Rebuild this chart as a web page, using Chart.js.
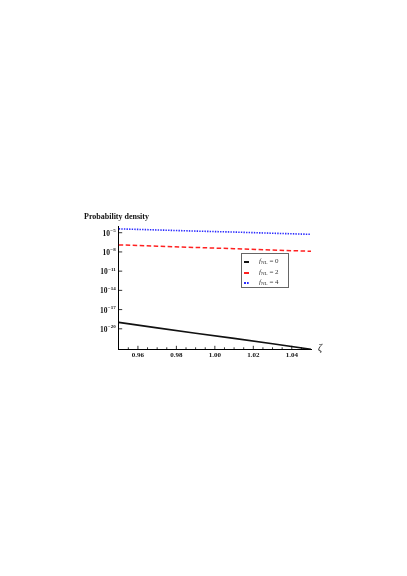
<!DOCTYPE html>
<html>
<head>
<meta charset="utf-8">
<script src="https://cdn.jsdelivr.net/npm/chart.js@4"></script>
<style>
  html, body { margin: 0; padding: 0; background: #fff; }
  #wrap { position: relative; width: 407px; height: 576px; }
  #title { position: absolute; left: 84px; top: 212px; font: bold 8px 'Liberation Serif', serif; color: #111; white-space: nowrap; }
  #zeta { position: absolute; left: 318px; top: 342px; font: italic 10px 'Liberation Serif', serif; color: #111; }
  #legend { position: absolute; left: 241px; top: 253px; width: 48px; height: 35px; border: 1px solid #666; background: #fff; box-sizing: border-box; font: 7px 'Liberation Serif', serif; color: #333; padding-top: 2px; }
  .row { position: relative; height: 10.5px; }
  .sample { position: absolute; left: 2px; top: 5px; width: 5px; height: 0; }
  .lab { position: absolute; left: 17px; top: 0px; line-height: 10px; white-space: nowrap; }
  .lab sub { font-size: 5px; vertical-align: -1px; }
</style>
</head>
<body>
<div id="wrap">
  <canvas id="c" width="407" height="576"></canvas>
  <div id="title">Probability density</div>
  <div id="zeta">ζ</div>
  <div id="legend"></div>
</div>
<script>
// ---- data ----
const zeta = [0.95, 0.97, 0.99, 1.01, 1.03, 1.05];
const densityF0 = [1.0e-19, 1.4e-20, 2.0e-21, 3.2e-22, 4.5e-23, 6.3e-24];
const densityF2 = [1.26e-7, 7.9e-8, 5.0e-8, 3.2e-8, 2.0e-8, 1.26e-8];
const densityF4 = [4.0e-5, 2.7e-5, 1.8e-5, 1.26e-5, 8.3e-6, 5.6e-6];
const fnlValues = ['0', '2', '4'];
const xTicks = [0.96, 0.98, 1.00, 1.02, 1.04];
const xMinorTicks = [0.955, 0.965, 0.97, 0.975, 0.985, 0.99, 0.995, 1.005, 1.01, 1.015, 1.025, 1.03, 1.035, 1.045];
const yTicks = [1e-5, 1e-8, 1e-11, 1e-14, 1e-17, 1e-20];
const yTickExponents = ['−5', '−8', '−11', '−14', '−17', '−20'];

const series = [densityF0, densityF2, densityF4];
const colors = ['#111111', '#ff2020', '#2a2aff'];
const dashes = [[], [4.5, 2.5], [1.4, 1.2]];
const widths = [1.6, 1.5, 1.6];
const cssStyles = ['solid', 'dashed', 'dotted'];

const datasets = series.map((vals, i) => ({
  label: 'fNL = ' + fnlValues[i],
  data: vals.map((v, j) => ({ x: zeta[j], y: v })),
  borderColor: colors[i],
  backgroundColor: colors[i],
  borderWidth: widths[i],
  borderDash: dashes[i],
  pointRadius: 0,
  tension: 0,
  fill: false
}));

const axisDecor = {
  id: 'axisDecor',
  afterDraw(chart) {
    const { ctx, chartArea: a, scales: { x, y } } = chart;
    ctx.save();
    ctx.strokeStyle = '#000';
    ctx.lineWidth = 0.8;
    ctx.beginPath();
    xMinorTicks.forEach(v => { const p = x.getPixelForValue(v); ctx.moveTo(p, a.bottom); ctx.lineTo(p, a.bottom - 2); });
    xTicks.forEach(v => { const p = x.getPixelForValue(v); ctx.moveTo(p, a.bottom); ctx.lineTo(p, a.bottom - 3.5); });
    yTicks.forEach(v => { const p = y.getPixelForValue(v); ctx.moveTo(a.left, p); ctx.lineTo(a.left + 3.5, p); });
    ctx.stroke();
    // y tick labels: "10" with a raised exponent
    ctx.fillStyle = '#111';
    ctx.textBaseline = 'alphabetic';
    yTicks.forEach((v, i) => {
      const p = y.getPixelForValue(v);
      const right = a.left - 3;
      ctx.font = "bold 5px 'Liberation Serif', serif";
      const ew = ctx.measureText(yTickExponents[i]).width;
      ctx.textAlign = 'right';
      ctx.fillText(yTickExponents[i], right, p - 0.5);
      ctx.font = "bold 7.5px 'Liberation Serif', serif";
      ctx.fillText('10', right - ew - 0.3, p + 3);
    });
    ctx.restore();
  }
};

const tickFont = { family: "'Liberation Serif', serif", size: 7, weight: 'bold' };

new Chart(document.getElementById('c'), {
  type: 'line',
  data: { datasets },
  options: {
    responsive: false,
    animation: false,
    layout: { padding: { left: 88.7, right: 96, top: 226.7, bottom: 214.7 } },
    plugins: { legend: { display: false }, tooltip: { enabled: false } },
    scales: {
      x: {
        type: 'linear', min: 0.95, max: 1.05,
        afterBuildTicks: s => { s.ticks = xTicks.map(v => ({ value: v })); },
        afterFit: s => { s.height = 12; },
        ticks: { font: tickFont, color: '#111', padding: 2, maxRotation: 0, autoSkip: false,
                 callback: v => Number(v).toFixed(2) },
        grid: { display: false, drawTicks: false },
        border: { display: true, color: '#000', width: 1 }
      },
      y: {
        type: 'logarithmic', min: 6.3e-24, max: 8.7e-5,
        afterBuildTicks: s => { s.ticks = yTicks.map(v => ({ value: v })); },
        afterFit: s => { s.width = 30; },
        ticks: { display: false },
        grid: { display: false, drawTicks: false },
        border: { display: true, color: '#000', width: 1 }
      }
    }
  },
  plugins: [axisDecor]
});

// HTML legend with subscripts, built from the series
const leg = document.getElementById('legend');
fnlValues.forEach((f, i) => {
  const row = document.createElement('div');
  row.className = 'row';
  const s = document.createElement('div');
  s.className = 'sample';
  s.style.borderTop = '2px ' + cssStyles[i] + ' ' + colors[i];
  const l = document.createElement('div');
  l.className = 'lab';
  l.innerHTML = '<i>f</i><sub>NL</sub> = ' + f;
  row.appendChild(s); row.appendChild(l);
  leg.appendChild(row);
});
</script>
</body>
</html>
